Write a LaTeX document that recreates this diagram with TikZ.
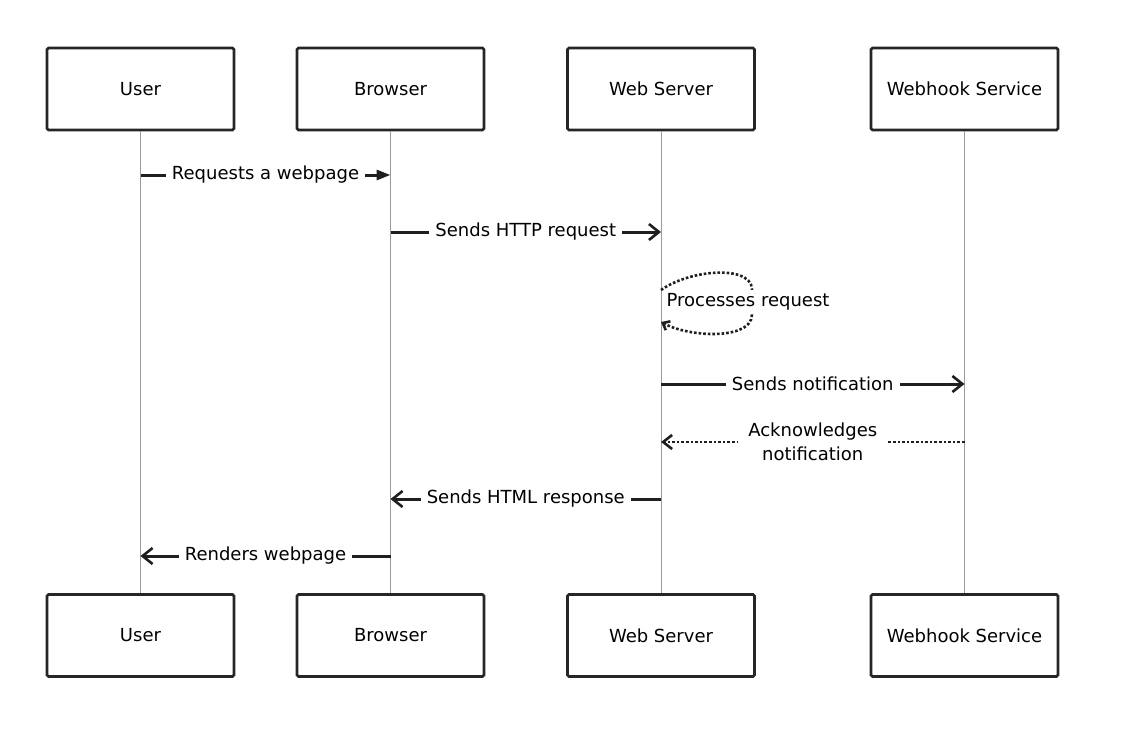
\documentclass[tikz,border=0pt]{standalone}
\usepackage{fontspec}
\setmainfont{DejaVu Sans}
\usepackage{tikz}
\usetikzlibrary{arrows.meta}
\usetikzlibrary{calc}

\begin{document}
\begin{tikzpicture}[x=1pt, y=-1pt,
    actor/.style={draw=black!85, line width=2.6pt, rounded corners=1.5pt, fill=white, minimum width=187pt, minimum height=82pt, font=\fontsize{18}{21}\selectfont},
    life/.style={draw=black!40, line width=1pt},
    msg/.style={draw=black!88, line width=3pt},
    reply/.style={draw=black!88, line width=2.6pt, dotted},
    lbl/.style={fill=white, inner xsep=6pt, inner ysep=3pt, font=\fontsize{18}{21}\selectfont, align=center}]
    \useasboundingbox (0,0) rectangle (1127,749);
    % Nodes
    \node[actor] (user) at (140.5,89) {User};
    \node[actor] (browser) at (390.5,89) {Browser};
    \node[actor] (server) at (661,89) {Web Server};
    \node[actor] (hook) at (964.5,89) {Webhook Service};
    \node[actor] (user2) at (140.5,635.5) {User};
    \node[actor] (browser2) at (390.5,635.5) {Browser};
    \node[actor] (server2) at (661,635.5) {Web Server};
    \node[actor] (hook2) at (964.5,635.5) {Webhook Service};
    % Lifelines
    \draw[life] (user) -- (user2);
    \draw[life] (browser) -- (browser2);
    \draw[life] (server) -- (server2);
    \draw[life] (hook) -- (hook2);
    % Message points
    \coordinate (u1) at (user |- 0,175);
    \coordinate (b1) at (browser |- 0,175);
    \coordinate (b2) at (browser |- 0,232);
    \coordinate (s2) at (server |- 0,232);
    \coordinate (s3a) at (server |- 0,290);
    \coordinate (s3b) at (server |- 0,322);
    \coordinate (s4) at (server |- 0,384);
    \coordinate (h4) at (hook |- 0,384);
    \coordinate (h5) at (hook |- 0,442);
    \coordinate (s5) at (server |- 0,442);
    \coordinate (s6) at (server |- 0,499);
    \coordinate (b6) at (browser |- 0,499);
    \coordinate (b7) at (browser |- 0,556);
    \coordinate (u7) at (user |- 0,556);
    % Messages
    \draw[msg, -{Triangle[length=14pt, width=10pt]}] (u1) -- (b1) node[lbl, midway] (m1) {Requests a webpage};
    \draw[msg, -{Straight Barb[length=10pt, width=16pt, line width=2.6pt]}] (b2) -- (s2) node[lbl, midway] (m2) {Sends HTTP request};
    \draw[reply, -{Straight Barb[length=6pt, width=10pt]}] (s3a) .. controls (695,266) and (770,264) .. (748,302) .. controls (770,340) and (695,340) .. (s3b);
    \node[lbl, inner xsep=1pt, inner ysep=4pt] (m3) at (748,302) {Processes request};
    \draw[msg, -{Straight Barb[length=10pt, width=16pt, line width=2.6pt]}] (s4) -- (h4) node[lbl, midway] (m4) {Sends notification};
    \draw[reply, -{Straight Barb[length=9pt, width=14pt]}] (h5) -- (s5) node[lbl, midway, inner xsep=10pt, font=\fontsize{18}{24}\selectfont] (m5) {Acknowledges\\notification};
    \draw[msg, -{Straight Barb[length=10pt, width=16pt, line width=2.6pt]}] (s6) -- (b6) node[lbl, midway] (m6) {Sends HTML response};
    \draw[msg, -{Straight Barb[length=10pt, width=16pt, line width=2.6pt]}] (b7) -- (u7) node[lbl, midway] (m7) {Renders webpage};
\end{tikzpicture}
\end{document}
